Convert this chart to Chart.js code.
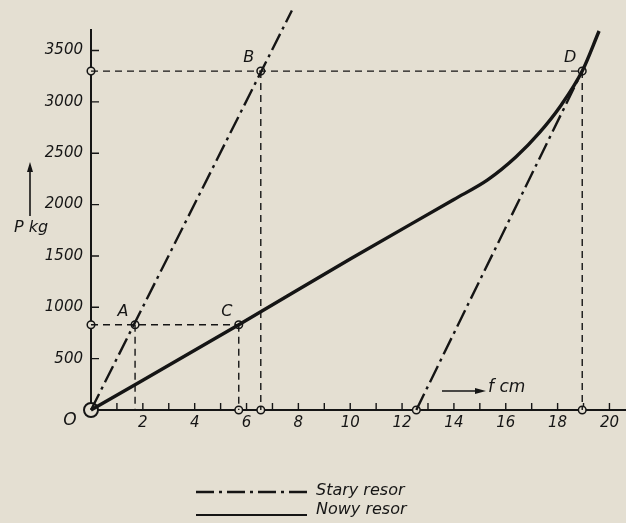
<!DOCTYPE html>
<html>
<head>
<meta charset="utf-8">
<script src="https://cdn.jsdelivr.net/npm/chart.js@4/dist/chart.umd.min.js"></script>
<style>
  html, body { margin: 0; padding: 0; background: #e4dfd2; }
  #wrap { width: 626px; height: 523px; }
</style>
</head>
<body>
<div id="wrap"><canvas id="springChart"></canvas></div>
<script>
// axis ranges (f in cm, P in kg)
const fMax = 20.6;
const pMax = 3700;
const xTickValues = [0, 1, 2, 3, 4, 5, 6, 7, 8, 9, 10, 11, 12, 13, 14, 15, 16, 17, 18, 19, 20];
const yTickValues = [0, 500, 1000, 1500, 2000, 2500, 3000, 3500];

// Nowy resor - solid curve
const nowyF = [0, 5.7, 10, 14, 15.3, 16.4, 17.3, 18.1, 18.95, 19.6];
const nowyP = [0, 830, 1470, 2050, 2240, 2465, 2700, 2955, 3300, 3690];

// Stary resor - two dash-dot lines
const staryF1 = [0, 7.75];
const staryP1 = [0, 3890];
const staryF2 = [12.55, 18.95];
const staryP2 = [0, 3300];

// dashed helper lines, pairs of points
const guideF = [[0, 18.95], [6.55, 6.55], [18.95, 18.95], [0, 5.7], [1.7, 1.7], [5.7, 5.7]];
const guideP = [[3300, 3300], [3300, 0], [3300, 0], [830, 830], [830, 0], [830, 0]];

// small open circles
const markF = [0, 0, 1.7, 5.7, 6.55, 18.95, 5.7, 6.55, 18.95, 12.55];
const markP = [3300, 830, 830, 830, 3300, 3300, 0, 0, 0, 0];

// point letters
const letterText = ['A', 'B', 'C', 'D'];
const letterF = [1.7, 6.55, 5.7, 18.95];
const letterP = [830, 3300, 830, 3300];

const legendText = ['Stary resor', 'Nowy resor'];

const INK = '#151515';
const BG = '#e4dfd2';
const DASHDOT = [18, 5, 3, 5];
const FONT = '"DejaVu Sans", sans-serif';

function pts(fs, ps) {
    return fs.map((f, i) => ({x: f, y: ps[i]}));
}

const datasets = [];

guideF.forEach((fs, i) => {
    datasets.push({
        data: pts(fs, guideP[i]),
        showLine: true,
        borderColor: INK,
        borderWidth: 1.4,
        borderDash: [7, 5],
        pointRadius: 0,
        clip: false
    });
});

datasets.push({
    label: legendText[0],
    data: pts(staryF1, staryP1),
    showLine: true,
    borderColor: INK,
    borderWidth: 2.4,
    borderDash: DASHDOT,
    pointRadius: 0,
    clip: false
});
datasets.push({
    data: pts(staryF2, staryP2),
    showLine: true,
    borderColor: INK,
    borderWidth: 2.4,
    borderDash: DASHDOT,
    pointRadius: 0,
    clip: false
});
datasets.push({
    label: legendText[1],
    data: pts(nowyF, nowyP),
    showLine: true,
    borderColor: INK,
    borderWidth: 3.4,
    cubicInterpolationMode: 'monotone',
    pointRadius: 0,
    clip: false
});

// open circles on top
datasets.push({
    data: pts(markF, markP),
    showLine: false,
    pointRadius: 3.8,
    pointBorderWidth: 1.5,
    pointBorderColor: INK,
    pointBackgroundColor: BG,
    clip: false
});
// origin double ring
datasets.push({
    data: pts([0], [0]),
    showLine: false,
    pointRadius: 7,
    pointBorderWidth: 2,
    pointBorderColor: INK,
    pointBackgroundColor: BG,
    clip: false
});
datasets.push({
    data: pts([0], [0]),
    showLine: false,
    pointRadius: 3.5,
    pointBorderWidth: 2,
    pointBorderColor: INK,
    pointBackgroundColor: BG,
    clip: false
});

const annotations = {
    id: 'annotations',
    beforeDraw(chart) {
        const ctx = chart.ctx;
        ctx.save();
        ctx.fillStyle = BG;
        ctx.fillRect(0, 0, chart.width, chart.height);
        ctx.restore();
    },
    // tick marks pointing into the plot, like on the drawing
    beforeDatasetsDraw(chart) {
        const ctx = chart.ctx;
        const xs = chart.scales.x, ys = chart.scales.y;
        const x0 = xs.getPixelForValue(0), y0 = ys.getPixelForValue(0);
        ctx.save();
        ctx.strokeStyle = INK;
        ctx.lineWidth = 1.4;
        ctx.beginPath();
        xs.ticks.forEach(t => {
            const px = xs.getPixelForValue(t.value);
            ctx.moveTo(px, y0);
            ctx.lineTo(px, y0 - 7);
        });
        ys.ticks.forEach(t => {
            const py = ys.getPixelForValue(t.value);
            ctx.moveTo(x0, py);
            ctx.lineTo(x0 + 8, py);
        });
        ctx.stroke();
        ctx.restore();
    },
    afterDraw(chart) {
        const ctx = chart.ctx;
        const xs = chart.scales.x, ys = chart.scales.y;
        ctx.save();
        ctx.fillStyle = INK;
        ctx.strokeStyle = INK;
        ctx.textAlign = 'center';
        ctx.textBaseline = 'middle';

        // A B C D
        ctx.font = 'italic 16px ' + FONT;
        letterText.forEach((t, i) => {
            const px = xs.getPixelForValue(letterF[i]);
            const py = ys.getPixelForValue(letterP[i]);
            ctx.fillText(t, px - 12, py - 13);
        });

        // origin letter
        const ox = xs.getPixelForValue(0), oy = ys.getPixelForValue(0);
        ctx.font = 'italic 17px ' + FONT;
        ctx.fillText('O', ox - 21, oy + 11);

        // P kg with arrow
        ctx.font = 'italic 16px ' + FONT;
        ctx.fillText('P kg', 31, 228);
        ctx.lineWidth = 1.6;
        ctx.beginPath();
        ctx.moveTo(30, 216);
        ctx.lineTo(30, 165);
        ctx.stroke();
        ctx.beginPath();
        ctx.moveTo(30, 162);
        ctx.lineTo(27, 172);
        ctx.lineTo(33, 172);
        ctx.closePath();
        ctx.fill();

        // f cm with arrow
        ctx.beginPath();
        ctx.moveTo(442, 391);
        ctx.lineTo(478, 391);
        ctx.stroke();
        ctx.beginPath();
        ctx.moveTo(486, 391);
        ctx.lineTo(475, 388);
        ctx.lineTo(475, 394);
        ctx.closePath();
        ctx.fill();
        ctx.textAlign = 'left';
        ctx.font = 'italic 17px ' + FONT;
        ctx.fillText('f cm', 488, 388);

        // legend
        ctx.lineWidth = 2.4;
        ctx.setLineDash(DASHDOT);
        ctx.beginPath();
        ctx.moveTo(196, 492);
        ctx.lineTo(307, 492);
        ctx.stroke();
        ctx.setLineDash([]);
        ctx.lineWidth = 2.2;
        ctx.beginPath();
        ctx.moveTo(196, 515);
        ctx.lineTo(307, 515);
        ctx.stroke();
        ctx.font = 'italic 16px ' + FONT;
        ctx.fillText(legendText[0], 316, 491);
        ctx.fillText(legendText[1], 316, 510);
        ctx.restore();
    }
};

new Chart(document.getElementById('springChart'), {
    type: 'scatter',
    data: {datasets: datasets},
    plugins: [annotations],
    options: {
        responsive: true,
        maintainAspectRatio: false,
        animation: false,
        layout: {autoPadding: false, padding: {top: 30, right: 1, left: 0, bottom: 0}},
        plugins: {legend: {display: false}, tooltip: {enabled: false}},
        scales: {
            x: {
                type: 'linear',
                min: 0,
                max: fMax,
                afterBuildTicks: s => { s.ticks = xTickValues.map(v => ({value: v})); },
                afterFit: s => {
                    s.height = 113;
                    s.paddingLeft = 0;
                    s.paddingRight = 0;
                },
                border: {color: INK, width: 2},
                grid: {display: false, drawTicks: false},
                ticks: {
                    autoSkip: false,
                    maxRotation: 0,
                    padding: 4,
                    color: INK,
                    font: {family: FONT, size: 15, style: 'italic'},
                    callback: v => (v !== 0 && v % 2 === 0) ? String(v) : ''
                }
            },
            y: {
                type: 'linear',
                min: 0,
                max: pMax,
                afterBuildTicks: s => { s.ticks = yTickValues.map(v => ({value: v})); },
                afterFit: s => {
                    s.width = 91;
                    s.paddingTop = 0;
                    s.paddingBottom = 0;
                },
                border: {color: INK, width: 2},
                grid: {display: false, drawTicks: false},
                ticks: {
                    autoSkip: false,
                    padding: 8,
                    color: INK,
                    font: {family: FONT, size: 15, style: 'italic'},
                    callback: v => v === 0 ? '' : String(v)
                }
            }
        }
    }
});
</script>
</body>
</html>
